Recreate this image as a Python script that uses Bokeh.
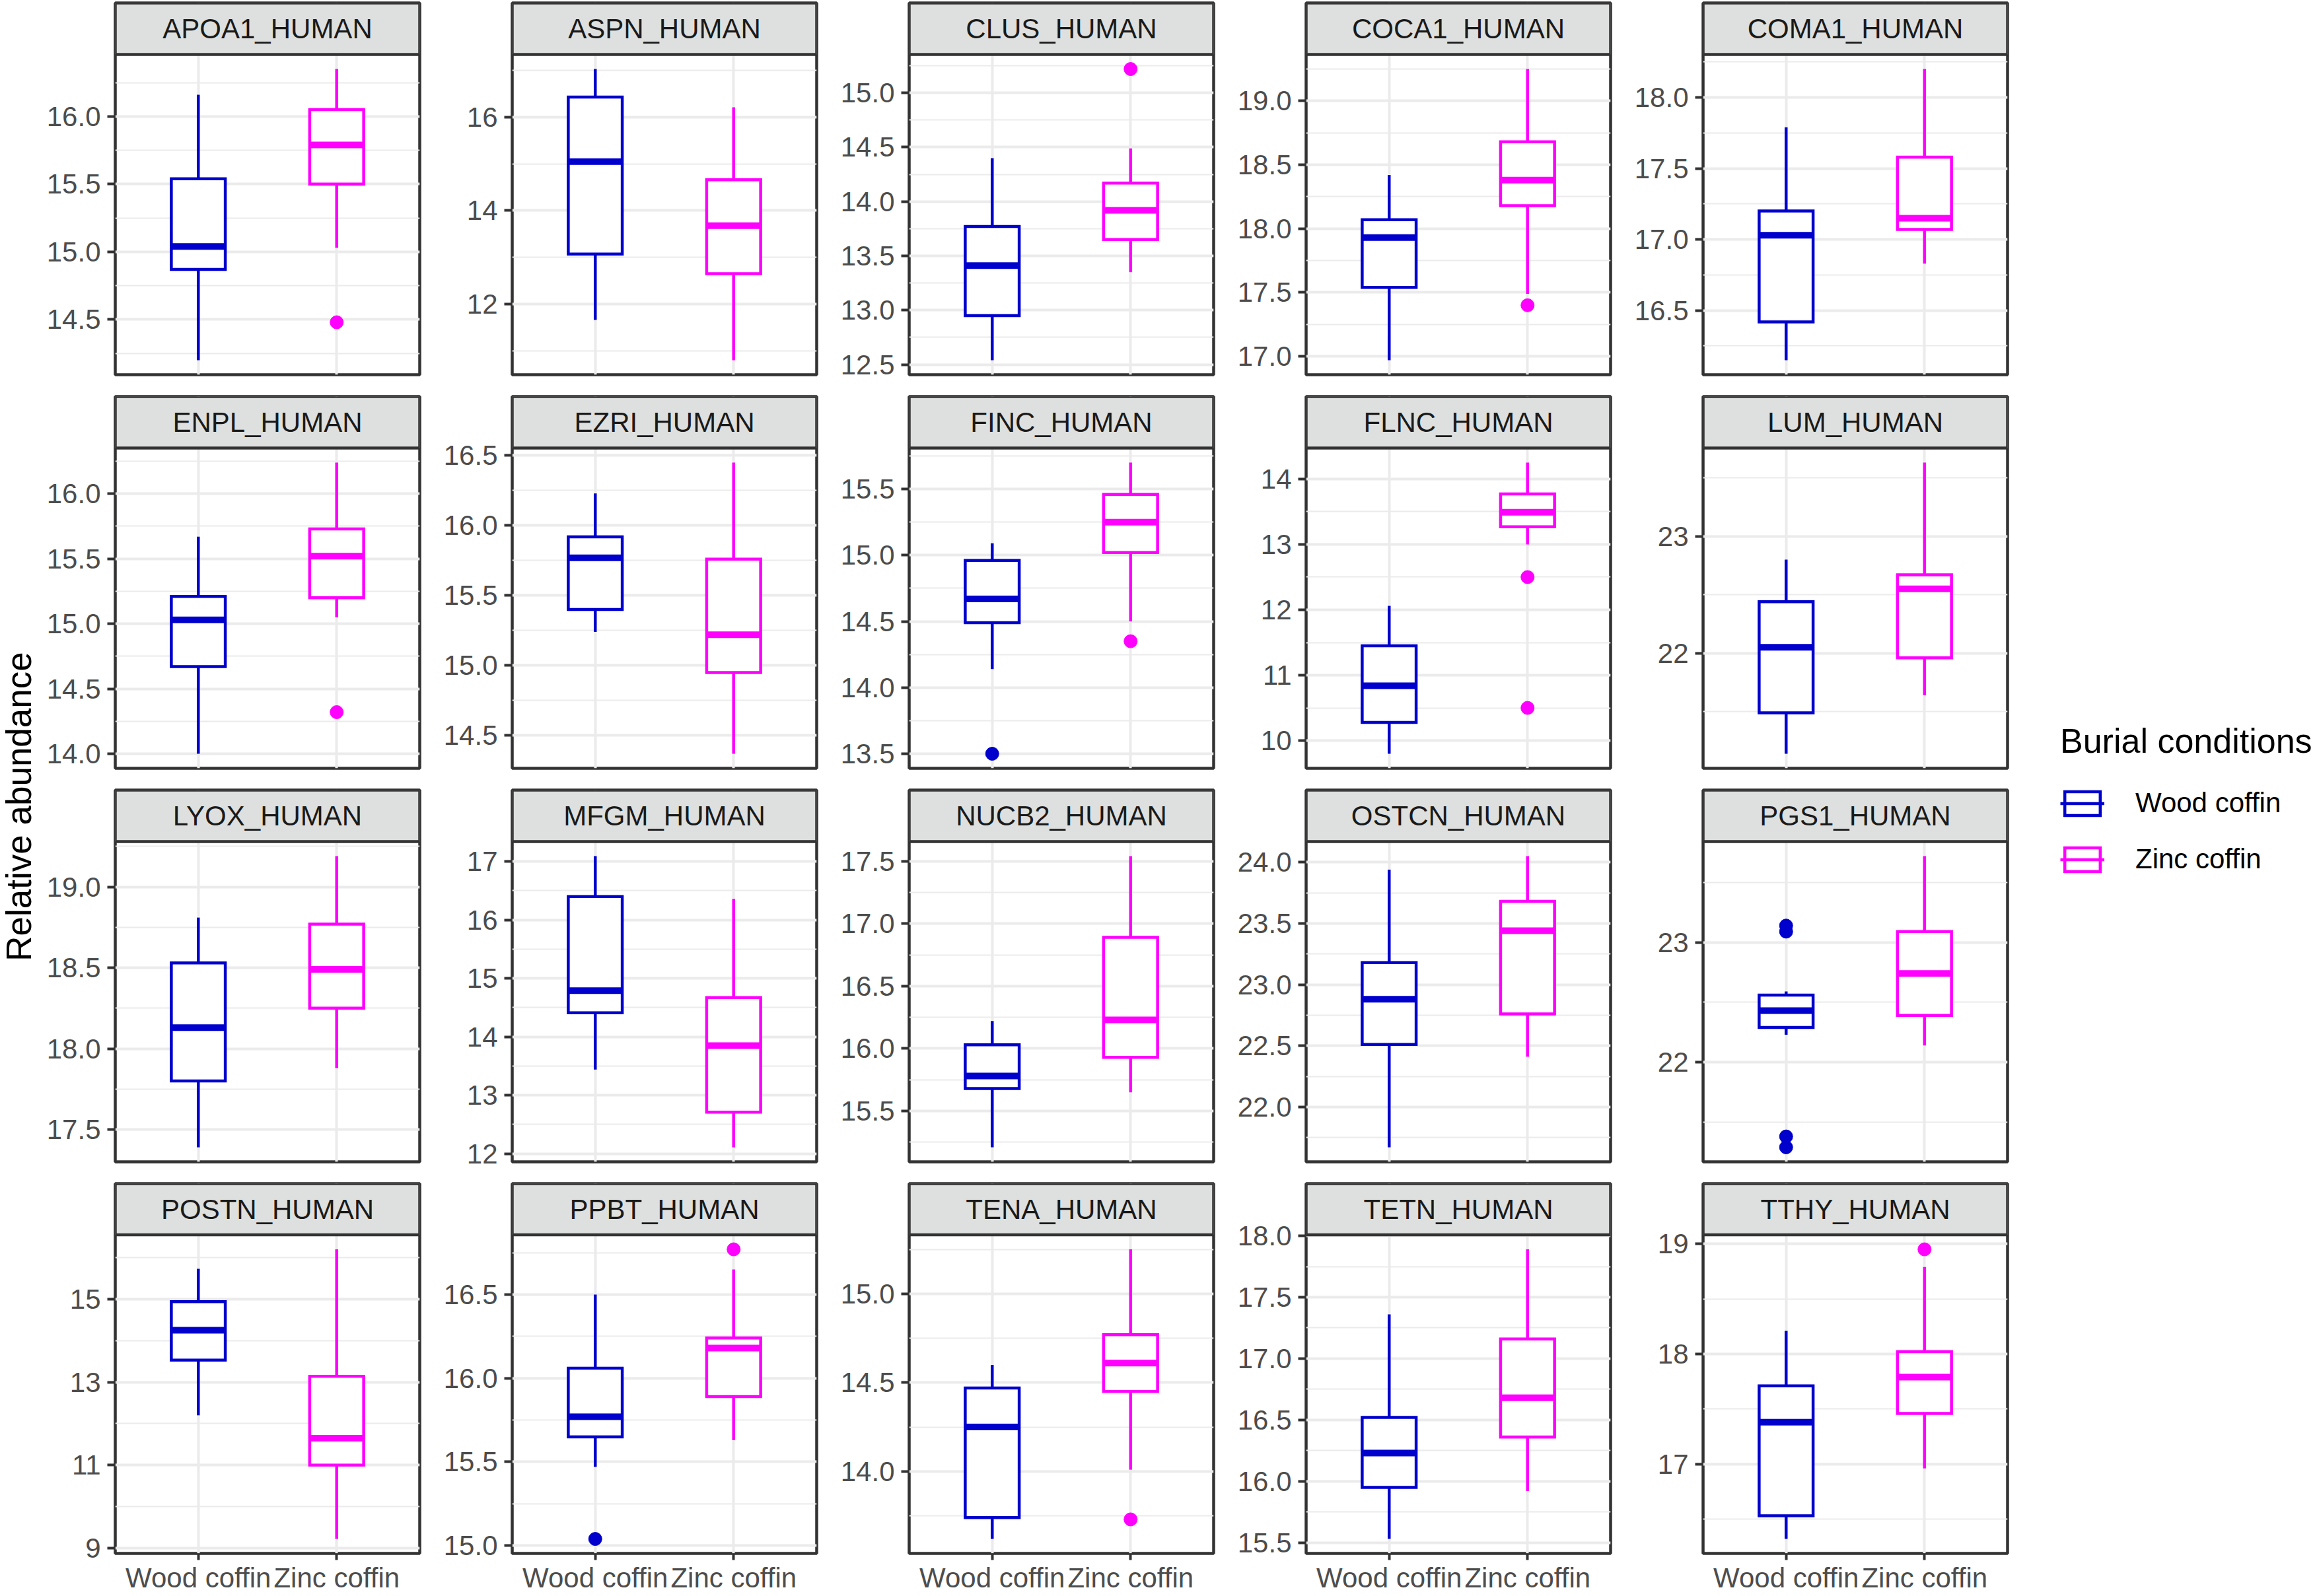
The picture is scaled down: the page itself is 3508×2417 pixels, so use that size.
import math
from bokeh.plotting import figure
from bokeh.models import (Range1d, FactorRange, FixedTicker, PrintfTickFormatter,
                          Label, Legend, LegendItem, ColumnDataSource, BoxAnnotation)
from bokeh.layouts import row, column
from bokeh.embed import file_html
from bokeh.resources import INLINE

# ---------------- data ----------------
groups = ["Wood coffin", "Zinc coffin"]
group_colors = ["#0000CD", "#FF00FF"]

proteins = ["APOA1_HUMAN", "ASPN_HUMAN", "CLUS_HUMAN", "COCA1_HUMAN", "COMA1_HUMAN",
            "ENPL_HUMAN", "EZRI_HUMAN", "FINC_HUMAN", "FLNC_HUMAN", "LUM_HUMAN",
            "LYOX_HUMAN", "MFGM_HUMAN", "NUCB2_HUMAN", "OSTCN_HUMAN", "PGS1_HUMAN",
            "POSTN_HUMAN", "PPBT_HUMAN", "TENA_HUMAN", "TETN_HUMAN", "TTHY_HUMAN"]

wood_lower  = [14.20, 11.66, 12.54, 16.97, 16.15, 14.00, 15.24, 14.14, 9.80, 21.14,
               17.39, 13.44, 15.21, 21.67, 22.23, 12.20, 15.47, 13.62, 15.53, 16.32]
wood_q1     = [14.87, 13.07, 12.95, 17.54, 16.42, 14.67, 15.40, 14.49, 10.28, 21.49,
               17.80, 14.41, 15.68, 22.51, 22.29, 13.53, 15.65, 13.74, 15.95, 16.53]
wood_median = [15.04, 15.05, 13.41, 17.93, 17.03, 15.03, 15.77, 14.67, 10.84, 22.05,
               18.13, 14.79, 15.78, 22.88, 22.43, 14.25, 15.77, 14.25, 16.23, 17.38]
wood_q3     = [15.54, 16.43, 13.77, 18.07, 17.20, 15.21, 15.92, 14.96, 11.45, 22.44,
               18.53, 16.40, 16.03, 23.18, 22.56, 14.94, 16.06, 14.47, 16.52, 17.71]
wood_upper  = [16.16, 17.03, 14.40, 18.42, 17.79, 15.67, 16.23, 15.09, 12.06, 22.80,
               18.81, 17.09, 16.22, 23.94, 22.59, 15.73, 16.50, 14.60, 17.36, 18.21]
wood_outliers = [[], [], [], [], [], [], [], [13.50], [], [],
                 [], [], [], [], [23.14, 23.09, 21.38, 21.29], [], [15.04], [], [], []]

zinc_lower  = [15.03, 10.80, 13.35, 17.49, 16.83, 15.05, 14.37, 14.50, 13.00, 21.64,
               17.88, 12.11, 15.65, 22.41, 22.14, 9.22, 15.63, 14.01, 15.92, 16.96]
zinc_q1     = [15.50, 12.65, 13.65, 18.18, 17.07, 15.20, 14.95, 15.02, 13.27, 21.96,
               18.25, 12.71, 15.93, 22.76, 22.39, 11.00, 15.89, 14.45, 16.36, 17.46]
zinc_median = [15.79, 13.68, 13.92, 18.38, 17.15, 15.52, 15.22, 15.25, 13.49, 22.55,
               18.49, 13.85, 16.23, 23.44, 22.74, 11.65, 16.18, 14.61, 16.68, 17.79]
zinc_q3     = [16.05, 14.66, 14.17, 18.68, 17.58, 15.73, 15.76, 15.46, 13.77, 22.67,
               18.77, 14.67, 16.89, 23.68, 23.09, 13.14, 16.24, 14.77, 17.16, 18.02]
zinc_upper  = [16.35, 16.21, 14.49, 19.25, 18.20, 16.24, 16.45, 15.70, 14.25, 23.63,
               19.19, 16.36, 17.54, 24.05, 23.72, 16.20, 16.65, 15.25, 17.89, 18.79]
zinc_outliers = [[14.48], [], [15.22], [17.40], [], [14.32], [], [14.35], [12.50, 10.50], [],
                 [], [], [], [], [], [], [16.77], [13.73], [], [18.95]]

y_tick_labels = [
    ["14.5", "15.0", "15.5", "16.0"],
    ["12", "14", "16"],
    ["12.5", "13.0", "13.5", "14.0", "14.5", "15.0"],
    ["17.0", "17.5", "18.0", "18.5", "19.0"],
    ["16.5", "17.0", "17.5", "18.0"],
    ["14.0", "14.5", "15.0", "15.5", "16.0"],
    ["14.5", "15.0", "15.5", "16.0", "16.5"],
    ["13.5", "14.0", "14.5", "15.0", "15.5"],
    ["10", "11", "12", "13", "14"],
    ["22", "23"],
    ["17.5", "18.0", "18.5", "19.0"],
    ["12", "13", "14", "15", "16", "17"],
    ["15.5", "16.0", "16.5", "17.0", "17.5"],
    ["22.0", "22.5", "23.0", "23.5", "24.0"],
    ["22", "23"],
    ["9", "11", "13", "15"],
    ["15.0", "15.5", "16.0", "16.5"],
    ["14.0", "14.5", "15.0"],
    ["15.5", "16.0", "16.5", "17.0", "17.5", "18.0"],
    ["17", "18", "19"],
]

y_title = "Relative abundance"
legend_title = "Burial conditions"

# ---------------- style / layout ----------------
FONT = "Liberation Sans"
NCOL, NROW = 5, 4
FRAME_W = 461
TOP_PAD = 4
STRIP_FRAME = 78
FRAME_H = 485
GAP = 29
BOTTOM_AXIS = 60
LEFT_FIRST = 110
LEFT_OTHER = 134
RIGHT = 6
YLAB_W = 64
LEG_W = 460
CELL_H = TOP_PAD + STRIP_FRAME + FRAME_H
H = (NROW - 1) * (CELL_H + GAP) + CELL_H + BOTTOM_AXIS

DARK = "#333333"
GRID = "#EBEBEB"
STRIP_FILL = "#DEE0DF"
LW = 4.5
NAN = float("nan")


def make_panel(i, r, c):
    left = LEFT_FIRST if c == 0 else LEFT_OTHER
    bottom = (r == NROW - 1)
    bb = BOTTOM_AXIS if bottom else GAP
    w = left + FRAME_W + RIGHT

    labels = y_tick_labels[i]
    ticks = [float(t) for t in labels]
    step = ticks[1] - ticks[0]
    vals = [wood_lower[i], wood_upper[i], zinc_lower[i], zinc_upper[i]] + wood_outliers[i] + zinc_outliers[i]
    lo, hi = min(vals), max(vals)
    pad = 0.05 * (hi - lo)
    lo, hi = lo - pad, hi + pad
    strip_ext = (hi - lo) * STRIP_FRAME / FRAME_H
    minor = [t for t in [ticks[0] - step / 2] + [t + step / 2 for t in ticks] if lo <= t <= hi]
    dec = len(labels[0].split(".")[1]) if "." in labels[0] else 0

    p = figure(width=w, height=CELL_H + bb,
               x_range=FactorRange(factors=groups, range_padding=0.1, range_padding_units="percent"),
               y_range=Range1d(lo, hi + strip_ext), title=None, toolbar_location=None, tools="",
               output_backend="svg", x_axis_location="below" if bottom else None,
               min_border_left=left, min_border_right=RIGHT, min_border_top=TOP_PAD,
               min_border_bottom=bb,
               background_fill_color="white", border_fill_color="white",
               outline_line_color=DARK, outline_line_width=LW)

    p.yaxis.ticker = FixedTicker(ticks=ticks, minor_ticks=minor)
    p.yaxis.formatter = PrintfTickFormatter(format="%." + str(dec) + "f")
    p.yaxis.axis_line_color = None
    p.yaxis.major_tick_out = 12
    p.yaxis.major_tick_in = 0
    p.yaxis.major_tick_line_width = 4
    p.yaxis.major_tick_line_color = DARK
    p.yaxis.minor_tick_line_color = None
    p.yaxis.major_label_standoff = 10
    p.yaxis.major_label_text_font = FONT
    p.yaxis.major_label_text_font_size = "42px"
    p.yaxis.major_label_text_color = "#4D4D4D"

    if bottom:
        p.xaxis.axis_line_color = None
        p.xaxis.major_tick_out = 10
        p.xaxis.major_tick_in = 0
        p.xaxis.major_tick_line_width = 4
        p.xaxis.major_tick_line_color = DARK
        p.xaxis.major_label_standoff = 3
        p.xaxis.major_label_text_font = FONT
        p.xaxis.major_label_text_font_size = "42px"
        p.xaxis.major_label_text_color = "#4D4D4D"

    p.xgrid.grid_line_color = GRID
    p.xgrid.grid_line_width = 4
    p.ygrid.grid_line_color = GRID
    p.ygrid.grid_line_width = 4
    p.ygrid.minor_grid_line_color = GRID
    p.ygrid.minor_grid_line_width = 2

    src = ColumnDataSource(dict(
        g=groups,
        lower=[wood_lower[i], zinc_lower[i]],
        q1=[wood_q1[i], zinc_q1[i]],
        med=[wood_median[i], zinc_median[i]],
        q3=[wood_q3[i], zinc_q3[i]],
        upper=[wood_upper[i], zinc_upper[i]],
        color=group_colors,
    ))
    p.segment(x0="g", y0="q3", x1="g", y1="upper", line_color="color", line_width=LW, source=src)
    p.segment(x0="g", y0="lower", x1="g", y1="q1", line_color="color", line_width=LW, source=src)
    p.vbar(x="g", bottom="q1", top="q3", width=0.39, fill_color="white", line_color="color",
           line_width=LW, line_join="miter", source=src)
    p.rect(x="g", y="med", width=0.39, height=10, height_units="screen", fill_color="color",
           line_color=None, source=src)

    og = [groups[0]] * len(wood_outliers[i]) + [groups[1]] * len(zinc_outliers[i])
    ov = list(wood_outliers[i]) + list(zinc_outliers[i])
    oc = [group_colors[0]] * len(wood_outliers[i]) + [group_colors[1]] * len(zinc_outliers[i])
    if ov:
        osrc = ColumnDataSource(dict(g=og, v=ov, c=oc))
        p.scatter(x="g", y="v", size=20, fill_color="c", line_color="c", source=osrc)

    # facet strip (inside the top of the frame, above the data range)
    p.add_layout(BoxAnnotation(bottom=hi, fill_color=STRIP_FILL, fill_alpha=1.0,
                               line_color=DARK, line_width=LW, line_alpha=1.0))
    p.add_layout(Label(x=FRAME_W / 2, x_units="screen", y=hi + strip_ext / 2,
                       text=proteins[i], text_align="center", text_baseline="middle",
                       text_font_size="42px", text_font=FONT, text_color="#1A1A1A"))
    return p


rows = []
for r in range(NROW):
    cells = [make_panel(r * NCOL + c, r, c) for c in range(NCOL)]
    rows.append(row(*cells))
grid = column(*rows)

# y-axis title
ylab = figure(width=YLAB_W, height=H, x_range=Range1d(0, YLAB_W), y_range=Range1d(0, H),
              title=None, toolbar_location=None, tools="", output_backend="svg",
              x_axis_location=None, y_axis_location=None, min_border=0,
              outline_line_color=None, background_fill_color="white", border_fill_color="white")
ylab.grid.visible = False
ylab.add_layout(Label(x=28, y=H - 1221, text=y_title, angle=math.pi / 2,
                      text_align="center", text_baseline="middle",
                      text_font_size="53px", text_font=FONT, text_color="black"))

# legend
leg = figure(width=LEG_W, height=H, x_range=Range1d(0, LEG_W), y_range=Range1d(0, H),
             title=None, toolbar_location=None, tools="", output_backend="svg",
             x_axis_location=None, y_axis_location=None, min_border=0,
             outline_line_color=None, background_fill_color="white", border_fill_color="white")
leg.grid.visible = False
items = []
for g, col in zip(groups, group_colors):
    vb = leg.vbar(x=[NAN], top=[NAN], bottom=[NAN], width=1, fill_color="white", line_color=col,
                  line_width=LW, line_join="miter")
    sg = leg.segment(x0=[NAN], y0=[NAN], x1=[NAN], y1=[NAN], line_color=col, line_width=LW)
    items.append(LegendItem(label=g, renderers=[vb, sg]))
legend = Legend(items=items, location=(74, H - 1325), title=legend_title,
                title_text_font_size="52px", title_text_font=FONT, title_text_color="black",
                title_text_font_style="normal", title_standoff=40,
                label_text_font_size="42px", label_text_font=FONT, label_text_color="black",
                glyph_width=67, glyph_height=45, label_standoff=47, label_height=45,
                spacing=37, padding=0, margin=0, border_line_color=None,
                background_fill_alpha=0)
leg.add_layout(legend)

layout = row(ylab, grid, leg)

open("out.html", "w").write(file_html(layout, INLINE))
